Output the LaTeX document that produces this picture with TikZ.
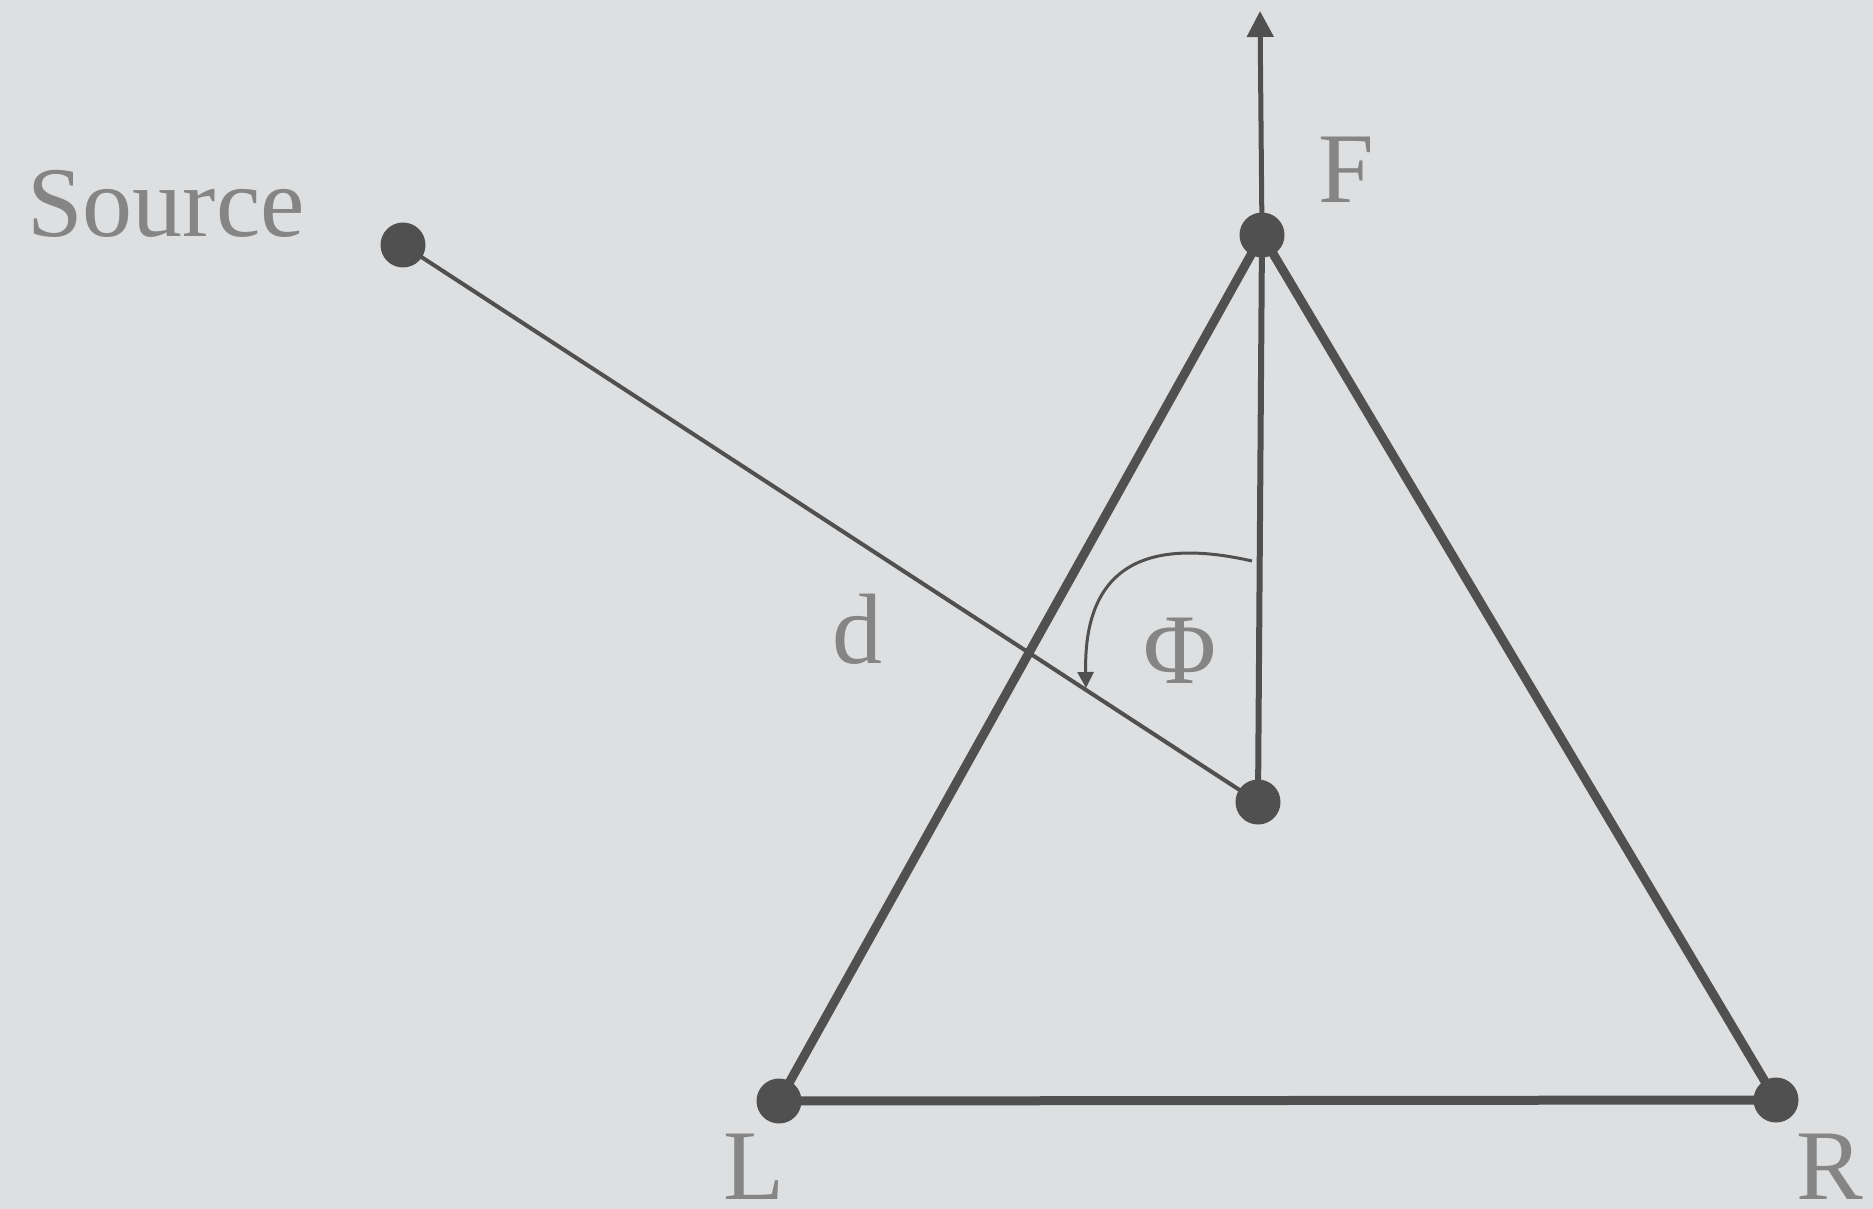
\documentclass[tikz,border=0pt]{standalone}
\usepackage{fontspec}
\setmainfont{Liberation Serif}
\usetikzlibrary{arrows.meta}
\definecolor{bgc}{RGB}{222,223,224}
\definecolor{ink}{RGB}{80,80,80}
\definecolor{lbl}{RGB}{133,133,133}
\begin{document}
\begin{tikzpicture}[x=0.5pt,y=-0.5pt,
  dot/.style={circle,fill=ink,inner sep=0pt,minimum size=22.5pt},
  lab/.style={text=lbl,font=\fontsize{50}{58}\selectfont,anchor=base,inner sep=0pt},
  side/.style={draw=ink,line width=4.5pt,line cap=round},
  thin/.style={draw=ink,line width=2pt}]
\fill[bgc] (0,0) rectangle (1873,1209);
\useasboundingbox (0,0) rectangle (1873,1209);
\node[dot] (S) at (403,245) {};
\node[dot] (F) at (1262,235) {};
\node[dot] (L) at (779,1101) {};
\node[dot] (R) at (1776,1100) {};
\node[dot] (C) at (1258,802) {};
\coordinate (top) at (1260,11);
\node[lab] (tS) at (166,236) {Source};
\node[lab] (tF) at (1346,203) {F};
\node[lab] (tL) at (754,1199) {L};
\node[lab] (tR) at (1830,1199) {R};
\node[lab] (td) at (857,663) {d};
\node[lab] (tphi) at (1180,683) {Φ};
\draw[side] (F.center) -- (L.center) -- (R.center) -- cycle;
\draw[thin] (S.center) -- (C.center);
\draw[draw=ink,line width=3pt] (C.center) -- (F.center);
\draw[draw=ink,line width=2.5pt,-{Triangle[length=13pt,width=13pt]}] (F.center) -- (top);
\coordinate (a1) at (1252,561);
\coordinate (a2) at (1086,688);
\draw[draw=ink,line width=1.5pt,-{Triangle[length=8pt,width=8pt]}] (a1) .. controls (1160,540) and (1083,555) .. (a2);
\end{tikzpicture}
\end{document}
